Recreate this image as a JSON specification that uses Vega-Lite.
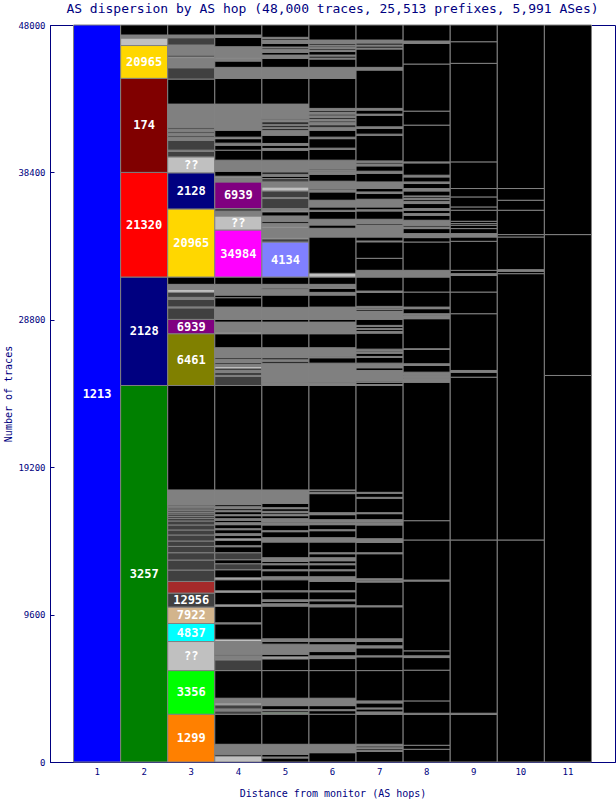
{
"$schema":"https://vega.github.io/schema/vega-lite/v6.json",
"autosize":{"type":"none"},
"padding":{"left":50,"top":25,"right":1,"bottom":38},
"width":565,"height":737,
"background":"white",
"title":{"text":"AS dispersion by AS hop (48,000 traces, 25,513 prefixes, 5,991 ASes)","font":"DejaVu Sans Mono","fontSize":13,"fontWeight":"normal","color":"#000080","anchor":"middle","offset":5},
"config":{"view":{"stroke":"#000080","strokeWidth":1}},
"data":{"values":[
{"h":1,"a":"1213","y0":0,"y1":48000,"t":"1213"},
{"h":2,"a":"3257","y0":0,"y1":24522,"t":"3257"},
{"h":2,"a":"2128","y0":24522,"y1":31585,"t":"2128"},
{"h":2,"a":"21320","y0":31585,"y1":38400,"t":"21320"},
{"h":2,"a":"174","y0":38400,"y1":44524,"t":"174"},
{"h":2,"a":"20965","y0":44524,"y1":46663,"t":"20965"},
{"h":2,"a":"??","y0":46663,"y1":47152},
{"h":2,"a":"other","y0":47152,"y1":47348},
{"h":2,"a":"end","y0":47348,"y1":48000},
{"h":3,"a":"1299","y0":0,"y1":3111,"t":"1299"},
{"h":3,"a":"3356","y0":3111,"y1":5954,"t":"3356"},
{"h":3,"a":"??","y0":5954,"y1":7846,"t":"??"},
{"h":3,"a":"4837","y0":7846,"y1":9020,"t":"4837"},
{"h":3,"a":"7922","y0":9020,"y1":10089,"t":"7922"},
{"h":3,"a":"12956","y0":10089,"y1":11002,"t":"12956"},
{"h":3,"a":"brown","y0":11002,"y1":11759},
{"h":3,"a":"dark","y0":11759,"y1":12502},
{"h":3,"a":"dark","y0":12502,"y1":13154},
{"h":3,"a":"dark","y0":13154,"y1":13630},
{"h":3,"a":"dark","y0":13630,"y1":14041},
{"h":3,"a":"dark","y0":14041,"y1":14393},
{"h":3,"a":"dark","y0":14393,"y1":14785},
{"h":3,"a":"dark","y0":14785,"y1":15111},
{"h":3,"a":"dark","y0":15111,"y1":15437},
{"h":3,"a":"dark","y0":15437,"y1":15698},
{"h":3,"a":"dark","y0":15698,"y1":15867},
{"h":3,"a":"dark","y0":15867,"y1":15998},
{"h":3,"a":"dark","y0":15998,"y1":16154},
{"h":3,"a":"dark","y0":16154,"y1":16259},
{"h":3,"a":"dark","y0":16259,"y1":16370},
{"h":3,"a":"dark","y0":16370,"y1":16480},
{"h":3,"a":"dark","y0":16480,"y1":16565},
{"h":3,"a":"dark","y0":16565,"y1":16650},
{"h":3,"a":"dark","y0":16650,"y1":16741},
{"h":3,"a":"other","y0":16741,"y1":17719},
{"h":3,"a":"end","y0":17719,"y1":24522},
{"h":3,"a":"6461","y0":24522,"y1":27893,"t":"6461"},
{"h":3,"a":"6939","y0":27893,"y1":28826,"t":"6939"},
{"h":3,"a":"dark","y0":28826,"y1":29576},
{"h":3,"a":"other","y0":29576,"y1":29641},
{"h":3,"a":"dark","y0":29641,"y1":30130},
{"h":3,"a":"other","y0":30130,"y1":30261},
{"h":3,"a":"dark","y0":30261,"y1":30587},
{"h":3,"a":"??","y0":30587,"y1":30783},
{"h":3,"a":"other","y0":30783,"y1":31109},
{"h":3,"a":"end","y0":31109,"y1":31585},
{"h":3,"a":"20965","y0":31585,"y1":36019,"t":"20965"},
{"h":3,"a":"2128","y0":36019,"y1":38374,"t":"2128"},
{"h":3,"a":"??","y0":38374,"y1":39411,"t":"??"},
{"h":3,"a":"dark","y0":39411,"y1":39783},
{"h":3,"a":"other","y0":39783,"y1":39848},
{"h":3,"a":"dark","y0":39848,"y1":40500},
{"h":3,"a":"other","y0":40500,"y1":40696},
{"h":3,"a":"dark","y0":40696,"y1":40826},
{"h":3,"a":"other","y0":40826,"y1":40957},
{"h":3,"a":"dark","y0":40957,"y1":41087},
{"h":3,"a":"other","y0":41087,"y1":41217},
{"h":3,"a":"dark","y0":41217,"y1":41348},
{"h":3,"a":"other","y0":41348,"y1":42848},
{"h":3,"a":"end","y0":42848,"y1":44478},
{"h":3,"a":"dark","y0":44478,"y1":45215},
{"h":3,"a":"other","y0":45215,"y1":45815},
{"h":3,"a":"??","y0":45815,"y1":45913},
{"h":3,"a":"dark","y0":45913,"y1":46043},
{"h":3,"a":"other","y0":46043,"y1":46696},
{"h":3,"a":"dark","y0":46696,"y1":47172},
{"h":3,"a":"other","y0":47172,"y1":47348},
{"h":3,"a":"end","y0":47348,"y1":48000},
{"h":4,"a":"??","y0":0,"y1":391},
{"h":4,"a":"end","y0":391,"y1":502},
{"h":4,"a":"other","y0":502,"y1":1154},
{"h":4,"a":"end","y0":1154,"y1":3111},
{"h":4,"a":"dark","y0":3111,"y1":3326},
{"h":4,"a":"other","y0":3326,"y1":3457},
{"h":4,"a":"dark","y0":3457,"y1":3717},
{"h":4,"a":"??","y0":3717,"y1":3848},
{"h":4,"a":"other","y0":3848,"y1":4154},
{"h":4,"a":"end","y0":4154,"y1":5954},
{"h":4,"a":"dark","y0":5954,"y1":6652},
{"h":4,"a":"other","y0":6652,"y1":6913},
{"h":4,"a":"dark","y0":6913,"y1":7024},
{"h":4,"a":"other","y0":7024,"y1":7846},
{"h":4,"a":"??","y0":7846,"y1":7989},
{"h":4,"a":"end","y0":7989,"y1":9000},
{"h":4,"a":"other","y0":9000,"y1":9065},
{"h":4,"a":"end","y0":9065,"y1":10141},
{"h":4,"a":"??","y0":10141,"y1":10239},
{"h":4,"a":"end","y0":10239,"y1":11054},
{"h":4,"a":"??","y0":11054,"y1":11152},
{"h":4,"a":"end","y0":11152,"y1":11870},
{"h":4,"a":"??","y0":11870,"y1":12000},
{"h":4,"a":"end","y0":12000,"y1":12522},
{"h":4,"a":"dark","y0":12522,"y1":12913},
{"h":4,"a":"end","y0":12913,"y1":13174},
{"h":4,"a":"dark","y0":13174,"y1":13630},
{"h":4,"a":"end","y0":13630,"y1":14022},
{"h":4,"a":"other","y0":14022,"y1":14087},
{"h":4,"a":"end","y0":14087,"y1":14446},
{"h":4,"a":"??","y0":14446,"y1":14543},
{"h":4,"a":"end","y0":14543,"y1":14772},
{"h":4,"a":"other","y0":14772,"y1":14870},
{"h":4,"a":"end","y0":14870,"y1":15130},
{"h":4,"a":"other","y0":15130,"y1":15196},
{"h":4,"a":"end","y0":15196,"y1":15457},
{"h":4,"a":"other","y0":15457,"y1":15587},
{"h":4,"a":"end","y0":15587,"y1":15750},
{"h":4,"a":"other","y0":15750,"y1":15848},
{"h":4,"a":"end","y0":15848,"y1":16043},
{"h":4,"a":"other","y0":16043,"y1":16109},
{"h":4,"a":"end","y0":16109,"y1":16304},
{"h":4,"a":"other","y0":16304,"y1":16370},
{"h":4,"a":"end","y0":16370,"y1":16500},
{"h":4,"a":"other","y0":16500,"y1":16630},
{"h":4,"a":"end","y0":16630,"y1":16761},
{"h":4,"a":"other","y0":16761,"y1":17719},
{"h":4,"a":"end","y0":17719,"y1":24522},
{"h":4,"a":"dark","y0":24522,"y1":25109},
{"h":4,"a":"other","y0":25109,"y1":25174},
{"h":4,"a":"dark","y0":25174,"y1":25370},
{"h":4,"a":"other","y0":25370,"y1":25500},
{"h":4,"a":"dark","y0":25500,"y1":25630},
{"h":4,"a":"??","y0":25630,"y1":25761},
{"h":4,"a":"other","y0":25761,"y1":25891},
{"h":4,"a":"dark","y0":25891,"y1":26022},
{"h":4,"a":"other","y0":26022,"y1":26217},
{"h":4,"a":"dark","y0":26217,"y1":26348},
{"h":4,"a":"other","y0":26348,"y1":26980},
{"h":4,"a":"end","y0":26980,"y1":27893},
{"h":4,"a":"??","y0":27893,"y1":27998},
{"h":4,"a":"other","y0":27998,"y1":28650},
{"h":4,"a":"end","y0":28650,"y1":28826},
{"h":4,"a":"other","y0":28826,"y1":29628},
{"h":4,"a":"end","y0":29628,"y1":30241},
{"h":4,"a":"end","y0":30241,"y1":30411},
{"h":4,"a":"other","y0":30411,"y1":31109},
{"h":4,"a":"end","y0":31109,"y1":31585},
{"h":4,"a":"34984","y0":31585,"y1":34650,"t":"34984"},
{"h":4,"a":"??","y0":34650,"y1":35563,"t":"??"},
{"h":4,"a":"other","y0":35563,"y1":35869},
{"h":4,"a":"dark","y0":35869,"y1":36045},
{"h":4,"a":"6939","y0":36045,"y1":37780,"t":"6939"},
{"h":4,"a":"other","y0":37780,"y1":38054},
{"h":4,"a":"??","y0":38054,"y1":38152},
{"h":4,"a":"end","y0":38152,"y1":38478},
{"h":4,"a":"other","y0":38478,"y1":39196},
{"h":4,"a":"end","y0":39196,"y1":39848},
{"h":4,"a":"end","y0":39848,"y1":40174},
{"h":4,"a":"other","y0":40174,"y1":40304},
{"h":4,"a":"end","y0":40304,"y1":40598},
{"h":4,"a":"??","y0":40598,"y1":40696},
{"h":4,"a":"end","y0":40696,"y1":41152},
{"h":4,"a":"other","y0":41152,"y1":42848},
{"h":4,"a":"end","y0":42848,"y1":44524},
{"h":4,"a":"other","y0":44524,"y1":45241},
{"h":4,"a":"end","y0":45241,"y1":45652},
{"h":4,"a":"other","y0":45652,"y1":45802},
{"h":4,"a":"??","y0":45802,"y1":45867},
{"h":4,"a":"other","y0":45867,"y1":46585},
{"h":4,"a":"end","y0":46585,"y1":47198},
{"h":4,"a":"other","y0":47198,"y1":47348},
{"h":4,"a":"end","y0":47348,"y1":48000},
{"h":5,"a":"end","y0":0,"y1":261},
{"h":5,"a":"other","y0":261,"y1":326},
{"h":5,"a":"end","y0":326,"y1":502},
{"h":5,"a":"other","y0":502,"y1":1154},
{"h":5,"a":"end","y0":1154,"y1":3111},
{"h":5,"a":"end","y0":3111,"y1":3163},
{"h":5,"a":"3356","y0":3163,"y1":3241},
{"h":5,"a":"end","y0":3241,"y1":3346},
{"h":5,"a":"other","y0":3346,"y1":3411},
{"h":5,"a":"end","y0":3411,"y1":3672},
{"h":5,"a":"other","y0":3672,"y1":4154},
{"h":5,"a":"end","y0":4154,"y1":5954},
{"h":5,"a":"end","y0":5954,"y1":6717},
{"h":5,"a":"??","y0":6717,"y1":6848},
{"h":5,"a":"end","y0":6848,"y1":7024},
{"h":5,"a":"other","y0":7024,"y1":7676},
{"h":5,"a":"end","y0":7676,"y1":7846},
{"h":5,"a":"other","y0":7846,"y1":8022},
{"h":5,"a":"end","y0":8022,"y1":10154},
{"h":5,"a":"other","y0":10154,"y1":10304},
{"h":5,"a":"end","y0":10304,"y1":10454},
{"h":5,"a":"other","y0":10454,"y1":10565},
{"h":5,"a":"end","y0":10565,"y1":11087},
{"h":5,"a":"dark","y0":11087,"y1":11152},
{"h":5,"a":"end","y0":11152,"y1":11870},
{"h":5,"a":"dark","y0":11870,"y1":11935},
{"h":5,"a":"other","y0":11935,"y1":12065},
{"h":5,"a":"end","y0":12065,"y1":12457},
{"h":5,"a":"other","y0":12457,"y1":12522},
{"h":5,"a":"end","y0":12522,"y1":12848},
{"h":5,"a":"other","y0":12848,"y1":12913},
{"h":5,"a":"end","y0":12913,"y1":13063},
{"h":5,"a":"other","y0":13063,"y1":13304},
{"h":5,"a":"end","y0":13304,"y1":14328},
{"h":5,"a":"other","y0":14328,"y1":14609},
{"h":5,"a":"end","y0":14609,"y1":15000},
{"h":5,"a":"other","y0":15000,"y1":15065},
{"h":5,"a":"end","y0":15065,"y1":15437},
{"h":5,"a":"other","y0":15437,"y1":15587},
{"h":5,"a":"end","y0":15587,"y1":15652},
{"h":5,"a":"other","y0":15652,"y1":15848},
{"h":5,"a":"end","y0":15848,"y1":16043},
{"h":5,"a":"other","y0":16043,"y1":16128},
{"h":5,"a":"end","y0":16128,"y1":16239},
{"h":5,"a":"other","y0":16239,"y1":16324},
{"h":5,"a":"end","y0":16324,"y1":16500},
{"h":5,"a":"other","y0":16500,"y1":16565},
{"h":5,"a":"end","y0":16565,"y1":16846},
{"h":5,"a":"other","y0":16846,"y1":17719},
{"h":5,"a":"end","y0":17719,"y1":24522},
{"h":5,"a":"dark","y0":24522,"y1":24587},
{"h":5,"a":"other","y0":24587,"y1":24685},
{"h":5,"a":"dark","y0":24685,"y1":24737},
{"h":5,"a":"other","y0":24737,"y1":25976},
{"h":5,"a":"end","y0":25976,"y1":26107},
{"h":5,"a":"other","y0":26107,"y1":26198},
{"h":5,"a":"end","y0":26198,"y1":26328},
{"h":5,"a":"other","y0":26328,"y1":26980},
{"h":5,"a":"end","y0":26980,"y1":27893},
{"h":5,"a":"other","y0":27893,"y1":28650},
{"h":5,"a":"end","y0":28650,"y1":28826},
{"h":5,"a":"other","y0":28826,"y1":29609},
{"h":5,"a":"end","y0":29609,"y1":30411},
{"h":5,"a":"other","y0":30411,"y1":30783},
{"h":5,"a":"end","y0":30783,"y1":30867},
{"h":5,"a":"other","y0":30867,"y1":31109},
{"h":5,"a":"end","y0":31109,"y1":31585},
{"h":5,"a":"4134","y0":31585,"y1":33867,"t":"4134"},
{"h":5,"a":"dark","y0":33867,"y1":34076},
{"h":5,"a":"??","y0":34076,"y1":34174},
{"h":5,"a":"other","y0":34174,"y1":34793},
{"h":5,"a":"??","y0":34793,"y1":34891},
{"h":5,"a":"other","y0":34891,"y1":35087},
{"h":5,"a":"end","y0":35087,"y1":35217},
{"h":5,"a":"other","y0":35217,"y1":35563},
{"h":5,"a":"end","y0":35563,"y1":35837},
{"h":5,"a":"??","y0":35837,"y1":35935},
{"h":5,"a":"other","y0":35935,"y1":36045},
{"h":5,"a":"dark","y0":36045,"y1":36698},
{"h":5,"a":"other","y0":36698,"y1":36763},
{"h":5,"a":"dark","y0":36763,"y1":37193},
{"h":5,"a":"??","y0":37193,"y1":37454},
{"h":5,"a":"other","y0":37454,"y1":37780},
{"h":5,"a":"dark","y0":37780,"y1":38002},
{"h":5,"a":"end","y0":38002,"y1":38152},
{"h":5,"a":"other","y0":38152,"y1":38283},
{"h":5,"a":"end","y0":38283,"y1":38433},
{"h":5,"a":"other","y0":38433,"y1":39196},
{"h":5,"a":"end","y0":39196,"y1":39848},
{"h":5,"a":"other","y0":39848,"y1":39959},
{"h":5,"a":"end","y0":39959,"y1":40174},
{"h":5,"a":"other","y0":40174,"y1":40284},
{"h":5,"a":"end","y0":40284,"y1":40826},
{"h":5,"a":"other","y0":40826,"y1":41152},
{"h":5,"a":"end","y0":41152,"y1":41263},
{"h":5,"a":"other","y0":41263,"y1":41348},
{"h":5,"a":"end","y0":41348,"y1":41478},
{"h":5,"a":"other","y0":41478,"y1":41543},
{"h":5,"a":"end","y0":41543,"y1":41693},
{"h":5,"a":"other","y0":41693,"y1":41837},
{"h":5,"a":"end","y0":41837,"y1":41915},
{"h":5,"a":"other","y0":41915,"y1":42848},
{"h":5,"a":"end","y0":42848,"y1":44524},
{"h":5,"a":"other","y0":44524,"y1":45241},
{"h":5,"a":"end","y0":45241,"y1":45828},
{"h":5,"a":"other","y0":45828,"y1":46043},
{"h":5,"a":"end","y0":46043,"y1":46219},
{"h":5,"a":"other","y0":46219,"y1":46415},
{"h":5,"a":"end","y0":46415,"y1":46513},
{"h":5,"a":"other","y0":46513,"y1":46565},
{"h":5,"a":"end","y0":46565,"y1":46806},
{"h":5,"a":"other","y0":46806,"y1":47022},
{"h":5,"a":"end","y0":47022,"y1":47120},
{"h":5,"a":"other","y0":47120,"y1":47198},
{"h":5,"a":"end","y0":47198,"y1":48000},
{"h":6,"a":"end","y0":0,"y1":607},
{"h":6,"a":"other","y0":607,"y1":1154},
{"h":6,"a":"end","y0":1154,"y1":3111},
{"h":6,"a":"end","y0":3111,"y1":3346},
{"h":6,"a":"other","y0":3346,"y1":3411},
{"h":6,"a":"end","y0":3411,"y1":3672},
{"h":6,"a":"other","y0":3672,"y1":4154},
{"h":6,"a":"end","y0":4154,"y1":5954},
{"h":6,"a":"end","y0":5954,"y1":6737},
{"h":6,"a":"other","y0":6737,"y1":6913},
{"h":6,"a":"end","y0":6913,"y1":7193},
{"h":6,"a":"other","y0":7193,"y1":7630},
{"h":6,"a":"end","y0":7630,"y1":7846},
{"h":6,"a":"other","y0":7846,"y1":8022},
{"h":6,"a":"end","y0":8022,"y1":10109},
{"h":6,"a":"other","y0":10109,"y1":10239},
{"h":6,"a":"end","y0":10239,"y1":10500},
{"h":6,"a":"other","y0":10500,"y1":10565},
{"h":6,"a":"end","y0":10565,"y1":11087},
{"h":6,"a":"other","y0":11087,"y1":11152},
{"h":6,"a":"end","y0":11152,"y1":11759},
{"h":6,"a":"other","y0":11759,"y1":12065},
{"h":6,"a":"end","y0":12065,"y1":12457},
{"h":6,"a":"other","y0":12457,"y1":12522},
{"h":6,"a":"end","y0":12522,"y1":12848},
{"h":6,"a":"other","y0":12848,"y1":12913},
{"h":6,"a":"end","y0":12913,"y1":13109},
{"h":6,"a":"other","y0":13109,"y1":13304},
{"h":6,"a":"end","y0":13304,"y1":13565},
{"h":6,"a":"other","y0":13565,"y1":13630},
{"h":6,"a":"end","y0":13630,"y1":14328},
{"h":6,"a":"other","y0":14328,"y1":14609},
{"h":6,"a":"end","y0":14609,"y1":15065},
{"h":6,"a":"other","y0":15065,"y1":15130},
{"h":6,"a":"end","y0":15130,"y1":15457},
{"h":6,"a":"other","y0":15457,"y1":15587},
{"h":6,"a":"end","y0":15587,"y1":15652},
{"h":6,"a":"other","y0":15652,"y1":15783},
{"h":6,"a":"end","y0":15783,"y1":16109},
{"h":6,"a":"other","y0":16109,"y1":16239},
{"h":6,"a":"end","y0":16239,"y1":17478},
{"h":6,"a":"other","y0":17478,"y1":17563},
{"h":6,"a":"end","y0":17563,"y1":17674},
{"h":6,"a":"other","y0":17674,"y1":17719},
{"h":6,"a":"end","y0":17719,"y1":24522},
{"h":6,"a":"end","y0":24522,"y1":24565},
{"h":6,"a":"other","y0":24565,"y1":24652},
{"h":6,"a":"end","y0":24652,"y1":24737},
{"h":6,"a":"other","y0":24737,"y1":25976},
{"h":6,"a":"end","y0":25976,"y1":26328},
{"h":6,"a":"other","y0":26328,"y1":26413},
{"h":6,"a":"end","y0":26413,"y1":26459},
{"h":6,"a":"other","y0":26459,"y1":26980},
{"h":6,"a":"end","y0":26980,"y1":27893},
{"h":6,"a":"other","y0":27893,"y1":28650},
{"h":6,"a":"end","y0":28650,"y1":28826},
{"h":6,"a":"other","y0":28826,"y1":29628},
{"h":6,"a":"end","y0":29628,"y1":30411},
{"h":6,"a":"other","y0":30411,"y1":30587},
{"h":6,"a":"end","y0":30587,"y1":30848},
{"h":6,"a":"other","y0":30848,"y1":30978},
{"h":6,"a":"end","y0":30978,"y1":31043},
{"h":6,"a":"other","y0":31043,"y1":31109},
{"h":6,"a":"end","y0":31109,"y1":31585},
{"h":6,"a":"??","y0":31585,"y1":31826},
{"h":6,"a":"end","y0":31826,"y1":34193},
{"h":6,"a":"other","y0":34193,"y1":34761},
{"h":6,"a":"end","y0":34761,"y1":34976},
{"h":6,"a":"other","y0":34976,"y1":35348},
{"h":6,"a":"end","y0":35348,"y1":35869},
{"h":6,"a":"other","y0":35869,"y1":35935},
{"h":6,"a":"end","y0":35935,"y1":36150},
{"h":6,"a":"other","y0":36150,"y1":36587},
{"h":6,"a":"end","y0":36587,"y1":37128},
{"h":6,"a":"other","y0":37128,"y1":37272},
{"h":6,"a":"end","y0":37272,"y1":37350},
{"h":6,"a":"other","y0":37350,"y1":37826},
{"h":6,"a":"end","y0":37826,"y1":38283},
{"h":6,"a":"other","y0":38283,"y1":38393},
{"h":6,"a":"end","y0":38393,"y1":38478},
{"h":6,"a":"other","y0":38478,"y1":38576},
{"h":6,"a":"end","y0":38576,"y1":38654},
{"h":6,"a":"other","y0":38654,"y1":39196},
{"h":6,"a":"end","y0":39196,"y1":39913},
{"h":6,"a":"other","y0":39913,"y1":39978},
{"h":6,"a":"end","y0":39978,"y1":40598},
{"h":6,"a":"other","y0":40598,"y1":40696},
{"h":6,"a":"end","y0":40696,"y1":41152},
{"h":6,"a":"other","y0":41152,"y1":41348},
{"h":6,"a":"end","y0":41348,"y1":41498},
{"h":6,"a":"other","y0":41498,"y1":41674},
{"h":6,"a":"end","y0":41674,"y1":41759},
{"h":6,"a":"other","y0":41759,"y1":41870},
{"h":6,"a":"end","y0":41870,"y1":41980},
{"h":6,"a":"other","y0":41980,"y1":42085},
{"h":6,"a":"end","y0":42085,"y1":42196},
{"h":6,"a":"other","y0":42196,"y1":42326},
{"h":6,"a":"end","y0":42326,"y1":42437},
{"h":6,"a":"other","y0":42437,"y1":42567},
{"h":6,"a":"end","y0":42567,"y1":44524},
{"h":6,"a":"other","y0":44524,"y1":45241},
{"h":6,"a":"end","y0":45241,"y1":45783},
{"h":6,"a":"other","y0":45783,"y1":45848},
{"h":6,"a":"end","y0":45848,"y1":45978},
{"h":6,"a":"other","y0":45978,"y1":46043},
{"h":6,"a":"end","y0":46043,"y1":46272},
{"h":6,"a":"other","y0":46272,"y1":46370},
{"h":6,"a":"end","y0":46370,"y1":46467},
{"h":6,"a":"other","y0":46467,"y1":46545},
{"h":6,"a":"end","y0":46545,"y1":46630},
{"h":6,"a":"other","y0":46630,"y1":46696},
{"h":6,"a":"end","y0":46696,"y1":46806},
{"h":6,"a":"other","y0":46806,"y1":47022},
{"h":6,"a":"end","y0":47022,"y1":48000},
{"h":7,"a":"end","y0":0,"y1":698},
{"h":7,"a":"other","y0":698,"y1":763},
{"h":7,"a":"end","y0":763,"y1":867},
{"h":7,"a":"other","y0":867,"y1":933},
{"h":7,"a":"end","y0":933,"y1":1043},
{"h":7,"a":"other","y0":1043,"y1":1154},
{"h":7,"a":"end","y0":1154,"y1":3111},
{"h":7,"a":"other","y0":3111,"y1":3261},
{"h":7,"a":"end","y0":3261,"y1":3457},
{"h":7,"a":"other","y0":3457,"y1":3522},
{"h":7,"a":"end","y0":3522,"y1":3848},
{"h":7,"a":"other","y0":3848,"y1":3978},
{"h":7,"a":"end","y0":3978,"y1":5954},
{"h":7,"a":"end","y0":5954,"y1":6848},
{"h":7,"a":"other","y0":6848,"y1":6913},
{"h":7,"a":"end","y0":6913,"y1":7435},
{"h":7,"a":"other","y0":7435,"y1":7565},
{"h":7,"a":"end","y0":7565,"y1":7846},
{"h":7,"a":"other","y0":7846,"y1":8022},
{"h":7,"a":"end","y0":8022,"y1":10109},
{"h":7,"a":"other","y0":10109,"y1":10174},
{"h":7,"a":"end","y0":10174,"y1":11720},
{"h":7,"a":"other","y0":11720,"y1":11804},
{"h":7,"a":"end","y0":11804,"y1":11870},
{"h":7,"a":"other","y0":11870,"y1":11935},
{"h":7,"a":"end","y0":11935,"y1":13565},
{"h":7,"a":"other","y0":13565,"y1":13630},
{"h":7,"a":"end","y0":13630,"y1":14302},
{"h":7,"a":"other","y0":14302,"y1":14543},
{"h":7,"a":"end","y0":14543,"y1":15437},
{"h":7,"a":"other","y0":15437,"y1":15587},
{"h":7,"a":"end","y0":15587,"y1":15652},
{"h":7,"a":"other","y0":15652,"y1":15783},
{"h":7,"a":"end","y0":15783,"y1":16174},
{"h":7,"a":"other","y0":16174,"y1":16239},
{"h":7,"a":"end","y0":16239,"y1":17185},
{"h":7,"a":"other","y0":17185,"y1":17237},
{"h":7,"a":"end","y0":17237,"y1":17511},
{"h":7,"a":"other","y0":17511,"y1":17563},
{"h":7,"a":"end","y0":17563,"y1":24522},
{"h":7,"a":"other","y0":24522,"y1":24587},
{"h":7,"a":"end","y0":24587,"y1":24737},
{"h":7,"a":"other","y0":24737,"y1":24802},
{"h":7,"a":"end","y0":24802,"y1":24848},
{"h":7,"a":"other","y0":24848,"y1":25500},
{"h":7,"a":"end","y0":25500,"y1":25676},
{"h":7,"a":"other","y0":25676,"y1":25976},
{"h":7,"a":"end","y0":25976,"y1":26348},
{"h":7,"a":"other","y0":26348,"y1":26413},
{"h":7,"a":"end","y0":26413,"y1":26628},
{"h":7,"a":"other","y0":26628,"y1":26720},
{"h":7,"a":"end","y0":26720,"y1":26804},
{"h":7,"a":"other","y0":26804,"y1":26889},
{"h":7,"a":"end","y0":26889,"y1":27933},
{"h":7,"a":"other","y0":27933,"y1":28043},
{"h":7,"a":"end","y0":28043,"y1":28174},
{"h":7,"a":"other","y0":28174,"y1":28239},
{"h":7,"a":"end","y0":28239,"y1":28370},
{"h":7,"a":"other","y0":28370,"y1":28435},
{"h":7,"a":"end","y0":28435,"y1":28826},
{"h":7,"a":"other","y0":28826,"y1":29367},
{"h":7,"a":"end","y0":29367,"y1":29478},
{"h":7,"a":"other","y0":29478,"y1":29524},
{"h":7,"a":"end","y0":29524,"y1":29609},
{"h":7,"a":"other","y0":29609,"y1":29674},
{"h":7,"a":"end","y0":29674,"y1":30587},
{"h":7,"a":"other","y0":30587,"y1":30672},
{"h":7,"a":"end","y0":30672,"y1":31585},
{"h":7,"a":"other","y0":31585,"y1":32022},
{"h":7,"a":"end","y0":32022,"y1":32804},
{"h":7,"a":"end","y0":32804,"y1":33880},
{"h":7,"a":"other","y0":33880,"y1":33933},
{"h":7,"a":"end","y0":33933,"y1":34193},
{"h":7,"a":"other","y0":34193,"y1":34976},
{"h":7,"a":"end","y0":34976,"y1":35067},
{"h":7,"a":"other","y0":35067,"y1":35348},
{"h":7,"a":"end","y0":35348,"y1":35889},
{"h":7,"a":"other","y0":35889,"y1":35967},
{"h":7,"a":"end","y0":35967,"y1":36150},
{"h":7,"a":"other","y0":36150,"y1":36652},
{"h":7,"a":"end","y0":36652,"y1":37024},
{"h":7,"a":"other","y0":37024,"y1":37128},
{"h":7,"a":"end","y0":37128,"y1":37350},
{"h":7,"a":"other","y0":37350,"y1":37780},
{"h":7,"a":"end","y0":37780,"y1":38348},
{"h":7,"a":"other","y0":38348,"y1":38478},
{"h":7,"a":"end","y0":38478,"y1":38824},
{"h":7,"a":"other","y0":38824,"y1":38954},
{"h":7,"a":"end","y0":38954,"y1":39065},
{"h":7,"a":"other","y0":39065,"y1":39150},
{"h":7,"a":"end","y0":39150,"y1":40826},
{"h":7,"a":"other","y0":40826,"y1":40891},
{"h":7,"a":"end","y0":40891,"y1":41263},
{"h":7,"a":"other","y0":41263,"y1":41367},
{"h":7,"a":"end","y0":41367,"y1":42130},
{"h":7,"a":"other","y0":42130,"y1":42196},
{"h":7,"a":"end","y0":42196,"y1":42457},
{"h":7,"a":"other","y0":42457,"y1":42567},
{"h":7,"a":"end","y0":42567,"y1":45065},
{"h":7,"a":"other","y0":45065,"y1":45241},
{"h":7,"a":"end","y0":45241,"y1":46435},
{"h":7,"a":"other","y0":46435,"y1":46500},
{"h":7,"a":"end","y0":46500,"y1":46630},
{"h":7,"a":"other","y0":46630,"y1":46696},
{"h":7,"a":"end","y0":46696,"y1":46826},
{"h":7,"a":"other","y0":46826,"y1":47022},
{"h":7,"a":"end","y0":47022,"y1":48000},
{"h":8,"a":"end","y0":0,"y1":828},
{"h":8,"a":"end","y0":828,"y1":1089},
{"h":8,"a":"end","y0":1089,"y1":3111},
{"h":8,"a":"other","y0":3111,"y1":3176},
{"h":8,"a":"end","y0":3176,"y1":3978},
{"h":8,"a":"end","y0":3978,"y1":5980},
{"h":8,"a":"end","y0":5980,"y1":6802},
{"h":8,"a":"other","y0":6802,"y1":6913},
{"h":8,"a":"end","y0":6913,"y1":7239},
{"h":8,"a":"end","y0":7239,"y1":11785},
{"h":8,"a":"other","y0":11785,"y1":11850},
{"h":8,"a":"end","y0":11850,"y1":14459},
{"h":8,"a":"end","y0":14459,"y1":15717},
{"h":8,"a":"end","y0":15717,"y1":24737},
{"h":8,"a":"other","y0":24737,"y1":24978},
{"h":8,"a":"end","y0":24978,"y1":25043},
{"h":8,"a":"other","y0":25043,"y1":25174},
{"h":8,"a":"end","y0":25174,"y1":25239},
{"h":8,"a":"other","y0":25239,"y1":25389},
{"h":8,"a":"end","y0":25389,"y1":25826},
{"h":8,"a":"other","y0":25826,"y1":25937},
{"h":8,"a":"end","y0":25937,"y1":26870},
{"h":8,"a":"other","y0":26870,"y1":26915},
{"h":8,"a":"end","y0":26915,"y1":28872},
{"h":8,"a":"other","y0":28872,"y1":29087},
{"h":8,"a":"end","y0":29087,"y1":29152},
{"h":8,"a":"other","y0":29152,"y1":29197},
{"h":8,"a":"end","y0":29197,"y1":29524},
{"h":8,"a":"other","y0":29524,"y1":29628},
{"h":8,"a":"end","y0":29628,"y1":30607},
{"h":8,"a":"end","y0":30607,"y1":31585},
{"h":8,"a":"other","y0":31585,"y1":32022},
{"h":8,"a":"end","y0":32022,"y1":33867},
{"h":8,"a":"end","y0":33867,"y1":34154},
{"h":8,"a":"other","y0":34154,"y1":34415},
{"h":8,"a":"end","y0":34415,"y1":34741},
{"h":8,"a":"other","y0":34741,"y1":34846},
{"h":8,"a":"end","y0":34846,"y1":34957},
{"h":8,"a":"other","y0":34957,"y1":35283},
{"h":8,"a":"end","y0":35283,"y1":35609},
{"h":8,"a":"other","y0":35609,"y1":35719},
{"h":8,"a":"end","y0":35719,"y1":35935},
{"h":8,"a":"other","y0":35935,"y1":36045},
{"h":8,"a":"end","y0":36045,"y1":36372},
{"h":8,"a":"other","y0":36372,"y1":36522},
{"h":8,"a":"end","y0":36522,"y1":36652},
{"h":8,"a":"other","y0":36652,"y1":36698},
{"h":8,"a":"end","y0":36698,"y1":36815},
{"h":8,"a":"other","y0":36815,"y1":36867},
{"h":8,"a":"end","y0":36867,"y1":37193},
{"h":8,"a":"other","y0":37193,"y1":37350},
{"h":8,"a":"end","y0":37350,"y1":37676},
{"h":8,"a":"other","y0":37676,"y1":37780},
{"h":8,"a":"end","y0":37780,"y1":38106},
{"h":8,"a":"other","y0":38106,"y1":38217},
{"h":8,"a":"end","y0":38217,"y1":39020},
{"h":8,"a":"other","y0":39020,"y1":39085},
{"h":8,"a":"end","y0":39085,"y1":41478},
{"h":8,"a":"end","y0":41478,"y1":42391},
{"h":8,"a":"end","y0":42391,"y1":45456},
{"h":8,"a":"end","y0":45456,"y1":46806},
{"h":8,"a":"other","y0":46806,"y1":46956},
{"h":8,"a":"end","y0":46956,"y1":48000},
{"h":9,"a":"end","y0":0,"y1":3100},
{"h":9,"a":"other","y0":3100,"y1":3176},
{"h":9,"a":"end","y0":3176,"y1":14459},
{"h":9,"a":"end","y0":14459,"y1":25063},
{"h":9,"a":"end","y0":25063,"y1":25389},
{"h":9,"a":"other","y0":25389,"y1":25500},
{"h":9,"a":"end","y0":25500,"y1":29197},
{"h":9,"a":"end","y0":29197,"y1":30607},
{"h":9,"a":"end","y0":30607,"y1":31696},
{"h":9,"a":"other","y0":31696,"y1":31806},
{"h":9,"a":"end","y0":31806,"y1":32022},
{"h":9,"a":"end","y0":32022,"y1":33913},
{"h":9,"a":"end","y0":33913,"y1":34193},
{"h":9,"a":"other","y0":34193,"y1":34415},
{"h":9,"a":"end","y0":34415,"y1":34741},
{"h":9,"a":"end","y0":34741,"y1":34957},
{"h":9,"a":"end","y0":34957,"y1":35067},
{"h":9,"a":"end","y0":35067,"y1":35217},
{"h":9,"a":"end","y0":35217,"y1":35935},
{"h":9,"a":"end","y0":35935,"y1":36150},
{"h":9,"a":"end","y0":36150,"y1":36802},
{"h":9,"a":"end","y0":36802,"y1":37350},
{"h":9,"a":"end","y0":37350,"y1":39085},
{"h":9,"a":"end","y0":39085,"y1":45502},
{"h":9,"a":"end","y0":45502,"y1":46911},
{"h":9,"a":"end","y0":46911,"y1":48000},
{"h":10,"a":"end","y0":0,"y1":14459},
{"h":10,"a":"end","y0":14459,"y1":31806},
{"h":10,"a":"end","y0":31806,"y1":31970},
{"h":10,"a":"other","y0":31970,"y1":32065},
{"h":10,"a":"end","y0":32065,"y1":34193},
{"h":10,"a":"end","y0":34193,"y1":34350},
{"h":10,"a":"end","y0":34350,"y1":35935},
{"h":10,"a":"end","y0":35935,"y1":36587},
{"h":10,"a":"end","y0":36587,"y1":37350},
{"h":10,"a":"end","y0":37350,"y1":48000},
{"h":11,"a":"end","y0":0,"y1":25174},
{"h":11,"a":"end","y0":25174,"y1":34350},
{"h":11,"a":"end","y0":34350,"y1":48000}
]},
"encoding":{
"x":{"field":"h","type":"ordinal","sort":null,
 "scale":{"domain":[1,2,3,4,5,6,7,8,9,10,11],"paddingInner":0,"paddingOuter":0.5},
 "axis":{"title":"Distance from monitor (AS hops)","labelAngle":0,"ticks":false,"domainColor":"#000080","labelColor":"#000080","labelFont":"DejaVu Sans Mono","labelFontSize":9,"labelPadding":5,"titleFont":"DejaVu Sans Mono","titleFontSize":10,"titleFontWeight":"normal","titleColor":"#000080","titlePadding":12}}
},
"layer":[
{"mark":{"type":"bar","stroke":"#808080","strokeWidth":1},
 "encoding":{
  "y":{"field":"y0","type":"quantitative","scale":{"domain":[0,48000],"nice":false},
   "axis":{"title":"Number of traces","values":[0,9600,19200,28800,38400,48000],"format":"d","grid":false,"domainColor":"#000080","tickColor":"#000080","tickSize":-4,"labelColor":"#000080","labelFont":"DejaVu Sans Mono","labelFontSize":9,"labelPadding":9,"titleFont":"DejaVu Sans Mono","titleFontSize":10,"titleFontWeight":"normal","titleColor":"#000080","titlePadding":4}},
  "y2":{"field":"y1"},
  "color":{"field":"a","type":"nominal","legend":null,
   "scale":{"domain":["1213","3257","2128","21320","174","20965","6461","6939","34984","4134","12956","7922","4837","3356","1299","??","brown","other","dark","end"],
   "range":["#0000ff","#008000","#000080","#ff0000","#800000","#ffd700","#808000","#800080","#ff00ff","#8080ff","#404040","#d2b48c","#00ffff","#00ff00","#ff8000","#c0c0c0","#a52a2a","#808080","#404040","#000000"]}}
 }},
{"transform":[{"filter":"datum.t"},{"calculate":"(datum.y0+datum.y1)/2","as":"mid"}],
 "mark":{"type":"text","color":"white","font":"DejaVu Sans Mono","fontSize":12,"fontWeight":"bold","baseline":"middle","align":"center"},
 "encoding":{"y":{"field":"mid","type":"quantitative"},"text":{"field":"t"}}}
]
}
